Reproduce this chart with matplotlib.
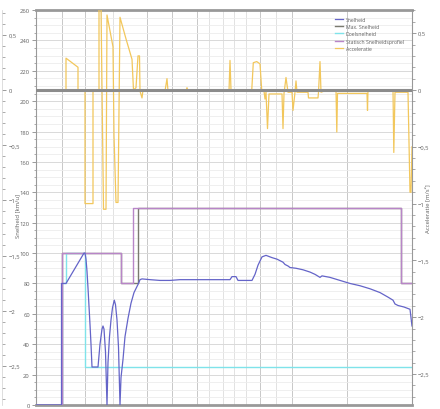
import numpy as np
import matplotlib
matplotlib.use("Agg")
import matplotlib.pyplot as plt
from matplotlib.ticker import MultipleLocator, FuncFormatter

plt.rcParams['font.family'] = ['Open Sans', 'DejaVu Sans']

snelheid_x = [36, 61.5, 61.5, 66, 84, 85, 86, 87, 88, 89, 90, 91, 92, 98, 100, 102, 103, 104, 105.5, 107,
              108, 109.5, 111, 112.5, 114.3, 115.5, 117, 118.5, 120, 121, 123, 125, 128, 131, 134, 137,
              138.5, 140, 142, 150, 160, 170, 180, 200, 230, 232, 236, 238, 240, 252, 255, 258, 262, 266,
              268, 272, 277, 283, 285, 288, 290, 296, 303, 310, 315, 320, 322, 330, 340, 350, 360, 370,
              380, 388, 393, 395, 398, 404, 410, 412]
snelheid = [0, 0, 80, 80, 100, 100, 96, 88, 77, 65, 53, 40, 25, 25, 40, 50, 52, 50, 35, 0,
            28, 45, 56, 64, 69, 66, 56, 38, 0, 18, 30, 45, 57, 67, 74, 78,
            80, 82.5, 83, 82.5, 82, 82, 82.5, 82.5, 82.5, 84.5, 84.5, 82, 82, 82, 86, 92, 97.5, 98.5,
            98, 97, 96, 94, 92.5, 91.5, 90.5, 90, 89, 87.5, 86, 84, 85, 84, 82, 80, 78.5, 76.5,
            74, 71, 69, 66.5, 65.5, 64.5, 63, 52]

max_x = [36, 62, 62, 121, 121, 138, 138, 401, 401, 412]
max_snelheid = [0, 0, 100, 100, 80, 80, 130, 130, 80, 80]

doel_x = [36, 62, 62, 66, 66, 85, 85, 412]
doelsnelheid = [0, 0, 80, 80, 100, 100, 25, 25]

profiel_x = [36, 62, 62, 121, 121, 133, 133, 401, 401, 412]
profiel = [0, 0, 100, 100, 80, 80, 130, 130, 80, 80]

acc_x = [36, 66, 66, 78, 78, 85, 85, 93, 93, 99, 99, 101, 103.5, 106, 107, 113, 114, 116, 118, 120,
         126, 132, 133.5, 136, 138, 139.5, 140, 142, 143, 165, 167, 168, 186, 187, 188, 229, 230, 231,
         251.7, 253.3, 256.7, 260, 261.7, 264, 265, 266, 267.5, 269, 282, 283, 284, 286, 288, 292, 293,
         295, 296, 297, 308, 308.5, 318, 318.5, 320, 321, 327, 336, 336.8, 337.5, 367, 367.5, 368, 393,
         393.8, 395, 408, 410, 411, 412]
acceleratie = [0, 0, 0.28, 0.2, 0, 0, -1.0, -1.0, 0, 0, 0.76, 0.74, -1.05, -1.05, 0.66, 0.38, -0.4, -0.99, -0.99, 0.64,
               0.45, 0.27, 0.0, 0.02, 0.3, 0.3, -0.01, -0.07, 0.0, -0.01, 0.1, -0.01, -0.01, 0.02, -0.01, -0.01, 0.26, 0.0,
               -0.01, 0.24, 0.25, 0.23, 0.0, -0.01, -0.08, -0.02, -0.34, -0.035, -0.035, -0.34, -0.03, 0.11, -0.02, -0.02, -0.18,
               -0.02, 0.08, -0.02, -0.02, -0.07, -0.07, -0.02, 0.25, -0.02, 0.0, 0.0, -0.37, -0.03, -0.03, -0.18, 0.0, 0.0,
               -0.55, -0.02, -0.02, -0.9, -0.9, -0.5]

grid_x = [62, 85, 101, 113, 147, 172, 197, 209, 223, 234, 246, 260, 276, 292, 347]
grid_donker = [62, 85, 147, 172, 197, 260, 292, 347]

snelheid_ticks = list(range(0, 261, 20))
acc_ticks = [0.5, 0, -0.5, -1, -1.5, -2, -2.5]

kleur_tekst = '#606060'
komma = FuncFormatter(lambda v, p: ('%g' % v).replace('.', ',').replace('-', '\u2212'))

fig = plt.figure(figsize=(4.4, 4.1), dpi=100)
ax = fig.add_axes([36 / 440, 4 / 410, 376 / 440, 395 / 410])

ax.set_xlim(36, 412)
ax.set_ylim(0, 260)
ax.set_yticks(snelheid_ticks)
ax.yaxis.set_minor_locator(MultipleLocator(5))
ax.set_xticks([])
ax.grid(True, which='minor', axis='y', color='#ececec', lw=0.6)
ax.grid(True, which='major', axis='y', color='#d9d9d9', lw=0.7)
for gx in grid_x:
    ax.axvline(gx, color='#c8c8c8' if gx in grid_donker else '#e2e2e2', lw=0.7, zorder=0.5)

ax.plot(max_x, max_snelheid, color='#7a7a70', lw=1.0, label='Max. Snelheid', zorder=2)
ax.plot(profiel_x, profiel, color='#b885c8', lw=1.0, label='Statisch Snelheidsprofiel', zorder=3)
ax.plot(doel_x, doelsnelheid, color='#7fe3ea', lw=1.0, label='Doelsnelheid', zorder=2.5)
ax.plot(snelheid_x, snelheid, color='#6464c8', lw=0.9, label='Snelheid', zorder=4)

ax.set_ylabel('Snelheid [km/u]', fontsize=4.3, color=kleur_tekst)
ax.yaxis.set_label_coords(-16 / 376, 0.48)
ax.tick_params(axis='y', which='major', labelsize=4.2, colors='#8a8a8a', labelcolor=kleur_tekst,
               length=3, width=0.6, pad=1.5)
ax.tick_params(axis='y', which='minor', colors='#8a8a8a', length=1.8, width=0.5)
for s in ['top', 'bottom']:
    ax.spines[s].set_color('#999999')
    ax.spines[s].set_linewidth(2)
for s in ['left', 'right']:
    ax.spines[s].set_color('#999999')
    ax.spines[s].set_linewidth(0.8)

ax2 = ax.twinx()
ax2.set_ylim(-2.773, 0.704)
ax2.set_yticks(acc_ticks)
ax2.yaxis.set_minor_locator(MultipleLocator(0.1))
ax2.yaxis.set_major_formatter(komma)
ax2.plot(acc_x, acceleratie, color='#f2c75c', lw=0.9, label='Acceleratie', zorder=3)
ax2.axhline(0, color='#8c8c8c', lw=2.2, zorder=4)
ax2.set_ylabel('Acceleratie [m/s²]', fontsize=4.3, color=kleur_tekst)
ax2.yaxis.set_label_coords(1 + 13 / 376, 0.5)
ax2.tick_params(axis='y', which='major', labelsize=4.2, colors='#8a8a8a', labelcolor=kleur_tekst,
                length=3, width=0.6, pad=1.5)
ax2.tick_params(axis='y', which='minor', colors='#8a8a8a', length=1.8, width=0.5)
for s in ax2.spines.values():
    s.set_visible(False)

# afgesneden as van de grafiek links ernaast
ax3 = ax.twinx()
ax3.set_ylim(-2.853, 0.725)
ax3.spines['right'].set_position(('axes', -34 / 376))
ax3.spines['right'].set_color('#d0d0d0')
ax3.spines['right'].set_linewidth(0.5)
for s in ['top', 'bottom', 'left']:
    ax3.spines[s].set_visible(False)
ax3.set_yticks(acc_ticks)
ax3.yaxis.set_minor_locator(MultipleLocator(0.1))
ax3.yaxis.set_major_formatter(komma)
ax3.tick_params(axis='y', which='major', labelsize=4.2, colors='#8a8a8a', labelcolor=kleur_tekst,
                length=3, width=0.6, pad=1.5)
ax3.tick_params(axis='y', which='minor', colors='#8a8a8a', length=1.8, width=0.5)

h1, l1 = ax.get_legend_handles_labels()
h2, l2 = ax2.get_legend_handles_labels()
volgorde = ['Snelheid', 'Max. Snelheid', 'Doelsnelheid', 'Statisch Snelheidsprofiel', 'Acceleratie']
alle = dict(zip(l1 + l2, h1 + h2))
leg = ax2.legend([alle[n] for n in volgorde], volgorde, loc='upper right', fontsize=3.7, frameon=False,
                 handlelength=1.5, handletextpad=0.6, labelspacing=0.45, bbox_to_anchor=(0.99, 0.995))
for t in leg.get_texts():
    t.set_color(kleur_tekst)

fig.savefig('out.png', dpi=100)
